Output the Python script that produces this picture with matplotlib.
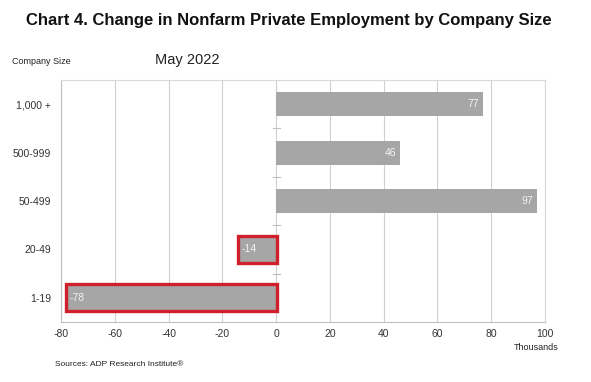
import matplotlib
matplotlib.use("Agg")
import matplotlib.pyplot as plt
from matplotlib.patches import Rectangle

categories = ["1,000 +", "500-999", "50-499", "20-49", "1-19"]
values = [77, 46, 97, -14, -78]
highlight = [False, False, False, True, True]
xticks = [-80, -60, -40, -20, 0, 20, 40, 60, 80, 100]

plt.rcParams['font.family'] = ['Liberation Sans', 'DejaVu Sans']

fig = plt.figure(figsize=(5.91, 3.82), dpi=100)
W, H = 591, 382
left, right, top, bottom = 61, 545, 80, 322
ax = fig.add_axes([left / W, 1 - bottom / H, (right - left) / W, (bottom - top) / H])

n = len(categories)
ypos = list(range(n - 1, -1, -1))
bar_h = 0.5
ax.barh(ypos, values, height=bar_h, color="#a6a6a6", zorder=3)

for y, v, hl in zip(ypos, values, highlight):
    if v >= 0:
        ax.text(v - 1.5, y, str(v), ha="right", va="center", color="#f2f2f2", fontsize=7.5, zorder=5)
    else:
        ax.text(v + 1.2, y, str(v), ha="left", va="center", color="#f2f2f2", fontsize=7.5, zorder=5)
    if hl:
        x0 = min(v, 0) - 0.3
        w = abs(v) + 0.6
        ax.add_patch(Rectangle((x0, y - bar_h / 2 - 0.03), w, bar_h + 0.06, fill=False,
                               edgecolor="#d0202e", linewidth=2.4, zorder=6, clip_on=False))

ax.set_xlim(-80, 100)
ax.set_ylim(-0.5, n - 0.5)
ax.set_xticks(xticks)
ax.set_xticklabels([str(t) for t in xticks], fontsize=7.5, color="#333333")
ax.set_yticks(ypos)
ax.set_yticklabels(categories, fontsize=7.5, color="#333333")
ax.tick_params(axis="both", length=0)
ax.tick_params(axis="x", pad=5)
ax.tick_params(axis="y", pad=7)
ax.grid(axis="x", color="#d0d0d0", linewidth=0.8, zorder=0)
for s in ["top", "right"]:
    ax.spines[s].set_color("#d9d9d9")
    ax.spines[s].set_linewidth(0.8)
for s in ["left", "bottom"]:
    ax.spines[s].set_color("#bfbfbf")
    ax.spines[s].set_linewidth(0.8)

# small tick marks on zero line at category boundaries
for b in [0.5, 1.5, 2.5, 3.5]:
    ax.plot([-1.3, 1.3], [b, b], color="#bfbfbf", linewidth=0.8, zorder=2)

fig.text(289 / W, 1 - 21 / H, "Chart 4. Change in Nonfarm Private Employment by Company Size",
         ha="center", va="center", fontsize=12, fontweight="bold", color="#111111")
fig.text(155 / W, 1 - 60 / H, "May 2022", ha="left", va="center", fontsize=10.5, color="#222222")
fig.text(12 / W, 1 - 61 / H, "Company Size", ha="left", va="center", fontsize=6.5, color="#222222")
fig.text(558 / W, 1 - 348 / H, "Thousands", ha="right", va="center", fontsize=6.5, color="#222222")
fig.text(55 / W, 1 - 364 / H, "Sources: ADP Research Institute®", ha="left", va="center", fontsize=6, color="#222222")

fig.savefig("out.png", dpi=100)
